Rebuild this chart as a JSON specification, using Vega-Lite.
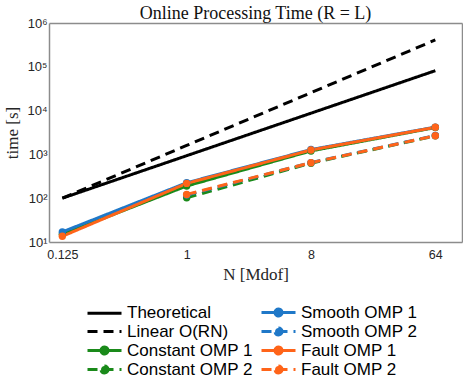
{
  "$schema": "https://vega.github.io/schema/vega-lite/v6.json",
  "autosize": "none",
  "width": 413,
  "height": 219,
  "padding": {"left": 49, "top": 23, "right": 1, "bottom": 135},
  "background": "white",
  "config": {
    "view": {"stroke": null},
    "axis": {
      "domainColor": "#8c8c8c",
      "domainWidth": 1.5,
      "tickColor": "#8c8c8c",
      "tickWidth": 1,
      "tickSize": 0,
      "labelFont": "Liberation Sans",
      "labelFontSize": 12.5,
      "labelColor": "#262626",
      "titleFont": "Liberation Serif",
      "titleFontSize": 17,
      "titleFontWeight": "normal",
      "titleColor": "#262626",
      "grid": false,
      "labelOverlap": false,
      "labelFlush": false
    }
  },
  "title": {
    "text": "Online Processing Time (R = L)",
    "font": "Liberation Serif",
    "fontSize": 18,
    "fontWeight": "normal",
    "color": "#111",
    "anchor": "middle",
    "frame": "group",
    "offset": -6
  },
  "data": {
    "values": [
      {"s": "Theoretical", "N": 0.125, "t": 100, "m": 0},
      {"s": "Theoretical", "N": 1, "t": 934, "m": 0},
      {"s": "Theoretical", "N": 8, "t": 8720, "m": 0},
      {"s": "Theoretical", "N": 64, "t": 81500, "m": 0},
      {"s": "Linear O(RN)", "N": 0.125, "t": 100, "m": 0},
      {"s": "Linear O(RN)", "N": 1, "t": 1600, "m": 0},
      {"s": "Linear O(RN)", "N": 8, "t": 25600, "m": 0},
      {"s": "Linear O(RN)", "N": 64, "t": 409600, "m": 0},
      {"s": "Constant OMP 1", "N": 0.125, "t": 15, "m": 1},
      {"s": "Constant OMP 1", "N": 1, "t": 190, "m": 1},
      {"s": "Constant OMP 1", "N": 8, "t": 1200, "m": 1},
      {"s": "Constant OMP 1", "N": 64, "t": 4100, "m": 1},
      {"s": "Constant OMP 2", "N": 1, "t": 102, "m": 1},
      {"s": "Constant OMP 2", "N": 8, "t": 630, "m": 1},
      {"s": "Constant OMP 2", "N": 64, "t": 2650, "m": 1},
      {"s": "Smooth OMP 1", "N": 0.125, "t": 17, "m": 1},
      {"s": "Smooth OMP 1", "N": 1, "t": 225, "m": 1},
      {"s": "Smooth OMP 1", "N": 8, "t": 1290, "m": 1},
      {"s": "Smooth OMP 1", "N": 64, "t": 4200, "m": 1},
      {"s": "Smooth OMP 2", "N": 1, "t": 118, "m": 1},
      {"s": "Smooth OMP 2", "N": 8, "t": 650, "m": 1},
      {"s": "Smooth OMP 2", "N": 64, "t": 2700, "m": 1},
      {"s": "Fault OMP 1", "N": 0.125, "t": 13.5, "m": 1},
      {"s": "Fault OMP 1", "N": 1, "t": 218, "m": 1},
      {"s": "Fault OMP 1", "N": 8, "t": 1260, "m": 1},
      {"s": "Fault OMP 1", "N": 64, "t": 4150, "m": 1},
      {"s": "Fault OMP 2", "N": 1, "t": 122, "m": 1},
      {"s": "Fault OMP 2", "N": 8, "t": 646, "m": 1},
      {"s": "Fault OMP 2", "N": 64, "t": 2670, "m": 1}
    ]
  },
  "layer": [
    {
      "mark": {"type": "line", "strokeWidth": 3, "clip": true},
      "encoding": {
        "x": {
          "field": "N", "type": "quantitative",
          "scale": {"type": "log", "domain": [0.1, 100], "nice": false},
          "axis": {
            "orient": "bottom",
            "title": "N [Mdof]",
            "titlePadding": 6,
            "labelPadding": 6,
            "values": [0.1, 0.125, 0.2, 0.3, 0.4, 0.5, 0.6, 0.7, 0.8, 0.9, 1, 2, 3, 4, 5, 6, 7, 8, 9, 10, 20, 30, 40, 50, 60, 64, 70, 80, 90, 100],
            "labelExpr": "datum.value == 0.125 ? '0.125' : datum.value == 1 ? '1' : datum.value == 8 ? '8' : datum.value == 64 ? '64' : ''",
            "encode": {"ticks": {"update": {"y2": {"signal": "indexof([0.125, 1, 8, 64], datum.value) >= 0 ? -5 : -3"}}}}
          }
        },
        "y": {
          "field": "t", "type": "quantitative",
          "scale": {"type": "log", "domain": [10, 1000000], "nice": false},
          "axis": {
            "orient": "left",
            "title": "time [s]",
            "titlePadding": 5,
            "labelPadding": 2,
            "values": [10, 20, 30, 40, 50, 60, 70, 80, 90, 100, 200, 300, 400, 500, 600, 700, 800, 900, 1000, 2000, 3000, 4000, 5000, 6000, 7000, 8000, 9000, 10000, 20000, 30000, 40000, 50000, 60000, 70000, 80000, 90000, 100000, 200000, 300000, 400000, 500000, 600000, 700000, 800000, 900000, 1000000],
            "labelExpr": "datum.value == 10 ? '10¹' : datum.value == 100 ? '10²' : datum.value == 1000 ? '10³' : datum.value == 10000 ? '10⁴' : datum.value == 100000 ? '10⁵' : datum.value == 1000000 ? '10⁶' : ''",
            "labelFontSize": 13,
            "encode": {"ticks": {"update": {"x2": {"signal": "indexof([10, 100, 1000, 10000, 100000, 1000000], datum.value) >= 0 ? 5 : 3"}}}}
          }
        },
        "color": {
          "field": "s", "type": "nominal",
          "scale": {
            "domain": ["Theoretical", "Linear O(RN)", "Constant OMP 1", "Constant OMP 2", "Smooth OMP 1", "Smooth OMP 2", "Fault OMP 1", "Fault OMP 2"],
            "range": ["#000000", "#000000", "#1a8a1a", "#1a8a1a", "#1f78c8", "#1f78c8", "#ff6419", "#ff6419"]
          },
          "legend": {
            "title": null,
            "orient": "none",
            "legendX": 47,
            "legendY": 281,
            "direction": "vertical",
            "columns": 2,
            "columnPadding": 2,
            "rowPadding": 0,
            "padding": 0,
            "labelFont": "Liberation Sans",
            "labelFontSize": 17,
            "labelColor": "#000",
            "labelOffset": 14,
            "labelLimit": 300,
            "symbolSize": 100,
            "symbolStrokeWidth": 3,
            "encode": {
              "symbols": {
                "update": {
                  "shape": {"signal": "indexof(datum.value, 'OMP') >= 0 ? 'M-3.4,0H3.4M0.7,0A0.7,0.7,0,1,1,-0.7,0A0.7,0.7,0,1,1,0.7,0Z' : 'M-3.4,0H3.4'"},
                  "strokeDash": {"signal": "(indexof(datum.value, '2') >= 0 || indexof(datum.value, 'Linear') >= 0) ? [9, 5] : [1, 0]"},
                  "fill": {"signal": "scale('color', datum.value)"},
                  "stroke": {"signal": "scale('color', datum.value)"},
                  "strokeWidth": {"value": 3},
                  "opacity": {"value": 1}
                }
              }
            }
          }
        },
        "strokeDash": {
          "field": "s", "type": "nominal",
          "scale": {
            "domain": ["Theoretical", "Linear O(RN)", "Constant OMP 1", "Constant OMP 2", "Smooth OMP 1", "Smooth OMP 2", "Fault OMP 1", "Fault OMP 2"],
            "range": [[1, 0], [10, 6], [1, 0], [10, 6], [1, 0], [10, 6], [1, 0], [10, 6]]
          },
          "legend": null
        }
      }
    },
    {
      "transform": [{"filter": "datum.m == 1"}],
      "mark": {"type": "point", "filled": true, "size": 55, "opacity": 1, "shape": "circle"},
      "encoding": {
        "x": {
          "field": "N", "type": "quantitative",
          "axis": {
            "orient": "top",
            "title": null,
            "labels": false,
            "values": [0.1, 0.125, 0.2, 0.3, 0.4, 0.5, 0.6, 0.7, 0.8, 0.9, 1, 2, 3, 4, 5, 6, 7, 8, 9, 10, 20, 30, 40, 50, 60, 64, 70, 80, 90, 100],
            "encode": {"ticks": {"update": {"y2": {"signal": "indexof([0.125, 1, 8, 64], datum.value) >= 0 ? 5 : 3"}}}}
          }
        },
        "y": {
          "field": "t", "type": "quantitative",
          "axis": {
            "orient": "right",
            "title": null,
            "labels": false,
            "values": [10, 20, 30, 40, 50, 60, 70, 80, 90, 100, 200, 300, 400, 500, 600, 700, 800, 900, 1000, 2000, 3000, 4000, 5000, 6000, 7000, 8000, 9000, 10000, 20000, 30000, 40000, 50000, 60000, 70000, 80000, 90000, 100000, 200000, 300000, 400000, 500000, 600000, 700000, 800000, 900000, 1000000],
            "encode": {"ticks": {"update": {"x2": {"signal": "indexof([10, 100, 1000, 10000, 100000, 1000000], datum.value) >= 0 ? -5 : -3"}}}}
          }
        },
        "color": {"field": "s", "type": "nominal"}
      }
    }
  ]
}
